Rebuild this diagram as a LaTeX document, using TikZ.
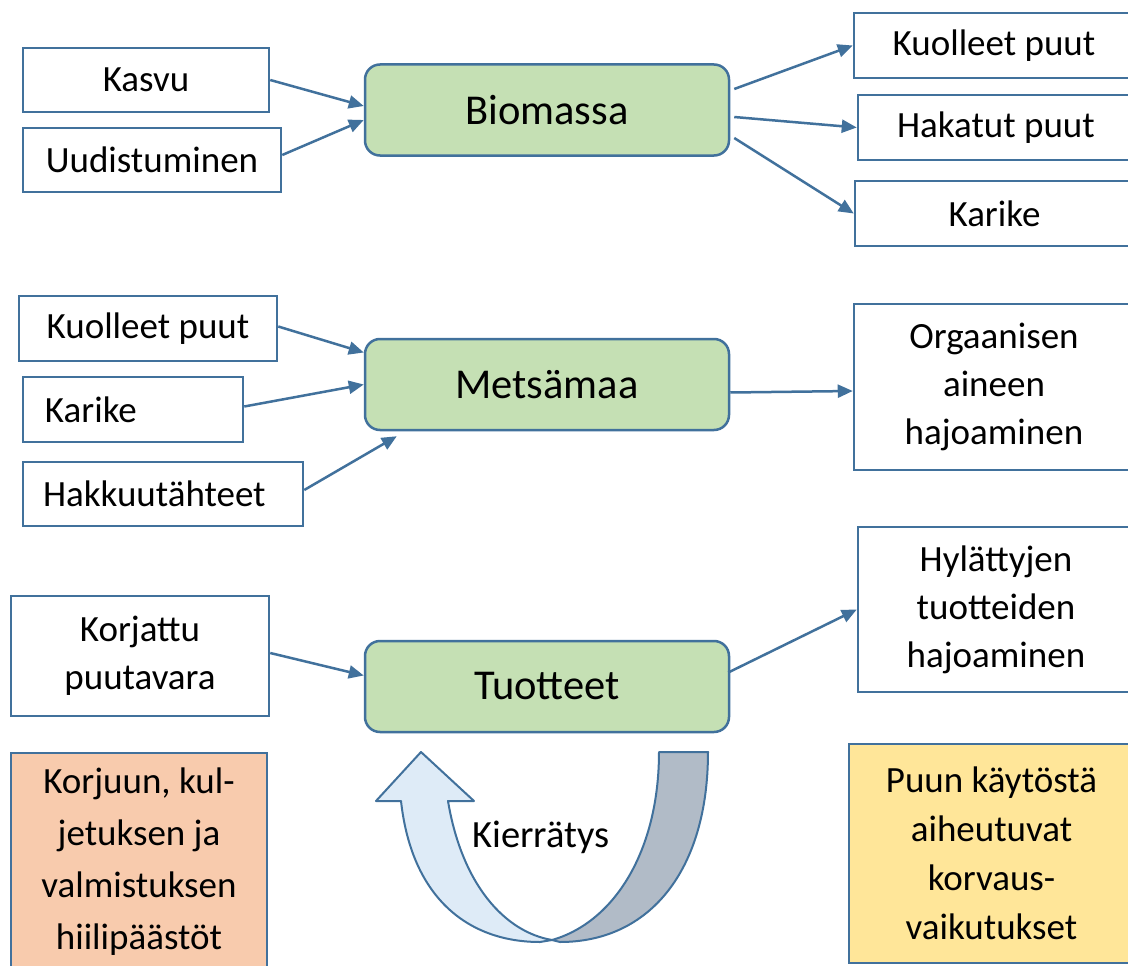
\documentclass[tikz,border=0pt]{standalone}
\usepackage{fontspec}
\setmainfont{Carlito}
\usetikzlibrary{arrows.meta,calc}
\definecolor{bordc}{HTML}{41719C}
\definecolor{greenf}{HTML}{C5E0B4}
\definecolor{orangef}{HTML}{F8CBAD}
\definecolor{yellowf}{HTML}{FFE699}
\definecolor{lightbf}{HTML}{DEEBF7}
\definecolor{grayf}{HTML}{B1BBC7}
\tikzset{
  x=1pt,y=-1pt,
  box/.style={draw=bordc,line width=2.5pt,fill=white,rectangle,inner sep=0pt,align=center,
    font=\fontsize{37}{48}\selectfont},
  mainbox/.style={box,fill=greenf,rounded corners=15pt,minimum width=364pt,minimum height=91pt,
    font=\fontsize{42.5}{50}\selectfont},
  conn/.style={draw=bordc,line width=2.5pt,-{Triangle[length=15pt,width=13pt]}},
}
\begin{document}
\begin{tikzpicture}
\clip (0,0) rectangle (1128,966);
\fill[white] (0,0) rectangle (1128,966);
% top row
\node[box,minimum width=246pt,minimum height=64pt] (kasvu) at (146,80) {Kasvu};
\node[box,minimum width=258pt,minimum height=64pt] (uud) at (152,160) {Uudistuminen};
\node[mainbox] (bio) at (547,110) {Biomassa};
\node[box,minimum width=280pt,minimum height=65pt] (kp1) at (994,45.5) {Kuolleet puut};
\node[box,minimum width=276pt,minimum height=65pt] (hak) at (996,127.5) {Hakatut puut};
\node[box,minimum width=279pt,minimum height=65pt] (kar1) at (994.5,213.5) {Karike};
% middle row
\node[box,minimum width=258pt,minimum height=65pt] (kp2) at (148,328.5) {Kuolleet puut};
\node[box,align=left,text width=176pt,inner xsep=22pt,minimum height=65pt] (kar2) at (133,409.5) {Karike};
\node[box,align=left,text width=240pt,inner xsep=20pt,minimum height=64pt] (hakk) at (163,494) {Hakkuutähteet};
\node[mainbox] (mets) at (547,384.5) {Metsämaa};
\node[box,minimum width=280pt,minimum height=166pt] (org) at (994,387) {Orgaanisen\\aineen\\hajoaminen};
% bottom row
\node[box,minimum width=258pt,minimum height=120pt] (korj) at (140,656) {Korjattu\\puutavara};
\node[mainbox] (tuo) at (547,686.5) {Tuotteet};
\node[box,minimum width=276pt,minimum height=165pt] (hyl) at (996,609.5) {Hylättyjen\\tuotteiden\\hajoaminen};
\node[box,fill=orangef,minimum width=256pt,minimum height=217pt,font=\fontsize{37}{52}\selectfont] (korjuun) at (139,861.5) {Korjuun, kul-\\jetuksen ja\\valmistuksen\\hiilipäästöt};
\node[box,fill=yellowf,minimum width=285pt,minimum height=219pt,font=\fontsize{37}{49}\selectfont] (puun) at (991.5,853.5) {Puun käytöstä\\aiheutuvat\\korvaus-\\vaikutukset};
% connectors
\draw[conn] (kasvu.east) -- ($(bio.west)+(0,-4)$);
\draw[conn] ($(uud.east)+(0,-5)$) -- ($(bio.west)+(0,10)$);
\draw[conn] ($(bio.east)+(4,-21)$) -- (kp1.west);
\draw[conn] ($(bio.east)+(4,7)$) -- (hak.west);
\draw[conn] ($(bio.east)+(4,28)$) -- (kar1.west);
\draw[conn] ($(kp2.east)+(0,-2)$) -- ($(mets.west)+(0,-32)$);
\draw[conn] ($(kar2.east)+(0,-3)$) -- (mets.west);
\draw[conn] ($(hakk.east)+(0,-4)$) -- ($(mets.south west)+(33,5)$);
\draw[conn] ($(mets.east)+(0,8)$) -- ($(org.west)+(0,4)$);
\draw[conn] ($(korj.east)+(0,-3)$) -- ($(tuo.west)+(0,-11)$);
\draw[conn] ($(tuo.east)+(-2,-14)$) -- (hyl.west);
% recycling arrow
\draw[draw=bordc,line width=2pt,fill=grayf,line join=round]
  (659,752) -- (708,752) .. controls (708,870) and (650,942) .. (560,942) -- (552,940)
  .. controls (615,922) and (659,850) .. cycle;
\draw[draw=bordc,line width=2pt,fill=lightbf,line join=round]
  (376,801) -- (421,752) -- (474,801) -- (448,801)
  .. controls (462,885) and (505,932) .. (552,940) -- (540,942)
  .. controls (470,942) and (412,900) .. (401,801) -- cycle;
\node[font=\fontsize{38.5}{44}\selectfont,inner sep=0pt] (kier) at (541,837) {Kierrätys};
\end{tikzpicture}
\end{document}
